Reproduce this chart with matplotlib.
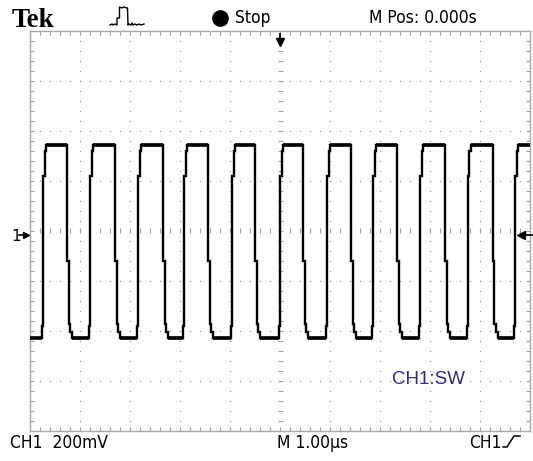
import matplotlib.pyplot as plt
import numpy as np

# trace: 1 us/div across, 200 mV/div up, in divisions
high_level = 1.72
low_level = -2.14
rise_times = [0.26, 1.20, 2.16, 3.08, 4.04, 5.00, 5.94, 6.86, 7.80, 8.76, 9.70]
fall_times = [0.74, 1.70, 2.66, 3.56, 4.50, 5.46, 6.42, 7.34, 8.30, 9.26]
# edge staircase (offset from edge, level)
rise_shape = [(-0.03, -2.14), (-0.03, -1.90), (0.0, -1.90), (0.0, 1.10),
              (0.03, 1.10), (0.03, 1.60), (0.06, 1.60), (0.06, 1.72)]
fall_shape = [(0.0, 1.72), (0.0, -0.60), (0.03, -0.60), (0.03, -1.85),
              (0.06, -1.85), (0.06, -2.02), (0.09, -2.02), (0.09, -2.14)]
trig_level = -0.08

# header / footer labels
top_labels = ['Stop', 'M Pos: 0.000s']
bottom_labels = ['CH1  200mV', 'M 1.00\u00b5s', 'CH1']
channel_label = 'CH1:SW'

W, H = 533, 461
fig = plt.figure(figsize=(W / 100, H / 100), dpi=100)
fig.patch.set_facecolor('white')

# scope screen
ax = fig.add_axes([30 / W, 30 / H, 500 / W, 400 / H])
ax.set_xlim(0, 10)
ax.set_ylim(-4, 4)
ax.set_xticks([])
ax.set_yticks([])
for s in ax.spines.values():
    s.set_color('#a8a8a8')
    s.set_linewidth(1.0)

grid_col = '#a0a0a0'
minor = np.arange(1, 50) * 0.2
minor_y = np.arange(1, 40) * 0.2 - 4
# dotted graticule
for k in range(1, 10):
    if k == 5:
        continue
    ax.plot(np.full(len(minor_y), k), minor_y, ls='none', marker='s', ms=0.9,
            mew=0, color=grid_col)
for k in range(-3, 4):
    if k == 0:
        continue
    ax.plot(minor, np.full(len(minor), k), ls='none', marker='s', ms=0.9,
            mew=0, color=grid_col)
# centre lines with tick marks
ax.vlines(minor, -0.05, 0.05, color=grid_col, lw=0.8)
ax.hlines(minor_y, 4.95, 5.05, color=grid_col, lw=0.8)
# border ticks
ax.vlines(minor, 3.92, 4, color=grid_col, lw=0.8)
ax.vlines(minor, -4, -3.92, color=grid_col, lw=0.8)
ax.hlines(minor_y, 0, 0.08, color=grid_col, lw=0.8)
ax.hlines(minor_y, 9.92, 10, color=grid_col, lw=0.8)

events = sorted([(t, 'r') for t in rise_times] + [(t, 'f') for t in fall_times])
xs = [0.0]
ys = [low_level]
for t, kind in events:
    shape = rise_shape if kind == 'r' else fall_shape
    for dx, lv in shape:
        xs.append(t + dx)
        ys.append(lv)
xs.append(10.0)
ys.append(high_level)
ax.plot(xs, ys, color='black', lw=1.7, solid_joinstyle='miter', zorder=5)

# noisy plateaus look thicker on the screen
tops = list(zip([r + 0.06 for r in rise_times], fall_times + [10.0]))
bots = list(zip([0.0] + [f + 0.09 for f in fall_times], [r - 0.03 for r in rise_times]))
for a, b in tops:
    ax.plot([a, b], [high_level, high_level], color='black', lw=2.6, zorder=5,
            solid_capstyle='butt')
for a, b in bots:
    ax.plot([a, b], [low_level, low_level], color='black', lw=2.6, zorder=5,
            solid_capstyle='butt')

ax.text(7.24, -3.05, channel_label, color='#2e2f6b', fontsize=13.5,
        family='Liberation Sans', va='baseline')

# overlay in pixel coordinates for markers and labels
ov = fig.add_axes([0, 0, 1, 1])
ov.set_xlim(0, W)
ov.set_ylim(H, 0)
ov.axis('off')

font = dict(family='DejaVu Sans', fontstretch='condensed', fontsize=12.5,
            color='black', va='baseline')
ov.text(12, 27, 'Tek', family='Liberation Serif', fontweight='bold',
        fontsize=19.5, va='baseline')
ov.plot([110, 112, 113, 115, 117, 117, 119.5, 119.5, 122, 124, 127, 127.5, 128,
         129, 131, 132, 133, 135, 137, 139, 141, 144],
        [25, 24, 25, 24, 25, 18, 18, 7, 8, 7, 8, 8, 25, 24, 25, 23, 25, 24, 25,
         24, 25, 24], color='black', lw=1.0)
ov.plot([220], [18], marker='o', ms=11, color='black')
ov.text(235, 23, top_labels[0], **font)
ov.text(369, 23, top_labels[1], **font)
ov.text(10, 448, bottom_labels[0], **font)
ov.text(277, 448, bottom_labels[1], **font)
ov.text(469, 448, bottom_labels[2], **font)
ov.plot([503, 507, 514, 520], [447, 447, 436, 436], color='black', lw=1.1)

# trigger position arrow (top) and level arrow (right), channel marker (left)
ov.plot([280, 280], [34, 40], color='black', lw=1.3)
ov.plot([280], [42], marker='v', ms=6, color='black')
ov.plot([520, 533], [235, 235], color='black', lw=1.3)
ov.plot([521], [235], marker='<', ms=6, color='black')
ov.text(11, 241, '1', fontsize=11, family='DejaVu Sans', va='baseline')
ov.plot([19, 25], [235, 235], color='black', lw=1.2)
ov.plot([26], [235], marker='>', ms=5, color='black')

fig.savefig('out.png', dpi=100)
